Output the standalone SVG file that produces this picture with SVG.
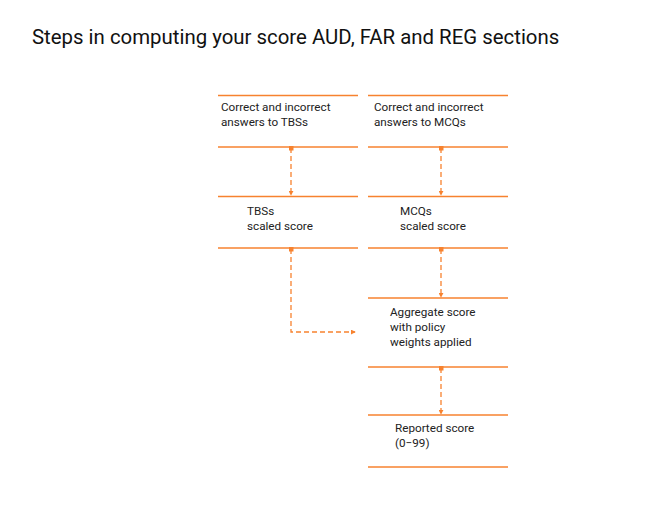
<svg xmlns="http://www.w3.org/2000/svg" width="650" height="513" viewBox="0 0 650 513">
<style>
.t{font-family:Roboto,"Liberation Sans",sans-serif;font-size:11.7px;fill:#222}
.title{font-family:Roboto,"Liberation Sans",sans-serif;font-size:20.4px;fill:#111}
.rule{stroke:#f7822f;stroke-width:1.5;fill:none}
.c{stroke:#f7822f;stroke-width:1.3;stroke-dasharray:5 3;fill:none}
</style>
<defs>
<marker id="a" viewBox="0 0 6 6" refX="5" refY="3" markerWidth="5" markerHeight="5" orient="auto" markerUnits="userSpaceOnUse">
<path d="M0,0 L6,3 L0,6 z" fill="#f7822f"/>
</marker>
<marker id="d" viewBox="0 0 6 6" refX="3" refY="3" markerWidth="5" markerHeight="5" orient="auto" markerUnits="userSpaceOnUse">
<rect x="0" y="0" width="6" height="6" fill="#f7822f"/>
</marker>
</defs>
<rect width="650" height="513" fill="#fff"/>
<text class="title" x="32" y="44">Steps in computing your score AUD, FAR and REG sections</text>
<g id="n1">
<line class="rule" x1="218" y1="95.5" x2="358" y2="95.5"/>
<line class="rule" x1="218" y1="147" x2="358" y2="147"/>
<text class="t" x="221" y="111">Correct and incorrect</text>
<text class="t" x="221" y="126">answers to TBSs</text>
</g>
<g id="n2">
<line class="rule" x1="368" y1="95.5" x2="508" y2="95.5"/>
<line class="rule" x1="368" y1="147" x2="508" y2="147"/>
<text class="t" x="374" y="111">Correct and incorrect</text>
<text class="t" x="374" y="126">answers to MCQs</text>
</g>
<g id="n3">
<line class="rule" x1="218" y1="196.5" x2="358" y2="196.5"/>
<line class="rule" x1="218" y1="248" x2="358" y2="248"/>
<text class="t" x="247" y="215">TBSs</text>
<text class="t" x="247" y="230">scaled score</text>
</g>
<g id="n4">
<line class="rule" x1="368" y1="196.5" x2="508" y2="196.5"/>
<line class="rule" x1="368" y1="248" x2="508" y2="248"/>
<text class="t" x="400" y="215">MCQs</text>
<text class="t" x="400" y="230">scaled score</text>
</g>
<g id="n5">
<line class="rule" x1="368" y1="298" x2="508" y2="298"/>
<line class="rule" x1="368" y1="367" x2="508" y2="367"/>
<text class="t" x="390" y="316">Aggregate score</text>
<text class="t" x="390" y="331">with policy</text>
<text class="t" x="390" y="346">weights applied</text>
</g>
<g id="n6">
<line class="rule" x1="368" y1="415" x2="508" y2="415"/>
<line class="rule" x1="368" y1="467" x2="508" y2="467"/>
<text class="t" x="395" y="432">Reported score</text>
<text class="t" x="395" y="447">(0−99)</text>
</g>
<g id="connectors">
<path class="c" d="M291,148 V195" marker-start="url(#d)" marker-end="url(#a)"/>
<path class="c" d="M441,148 V195" marker-start="url(#d)" marker-end="url(#a)"/>
<path class="c" d="M291,249 V332 H355" marker-start="url(#d)" marker-end="url(#a)"/>
<path class="c" d="M441,249 V297" marker-start="url(#d)" marker-end="url(#a)"/>
<path class="c" d="M441,368 V414" marker-start="url(#d)" marker-end="url(#a)"/>
</g>
</svg>
